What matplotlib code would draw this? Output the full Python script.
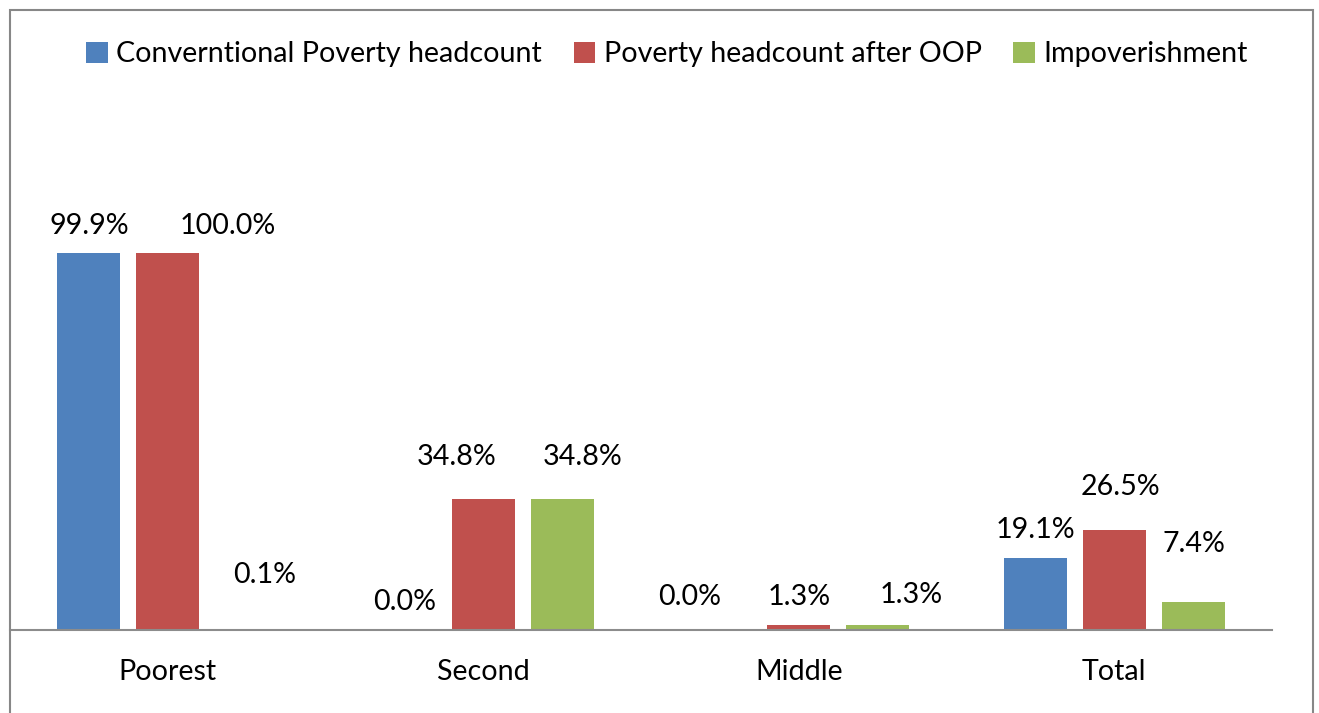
import matplotlib
matplotlib.use("Agg")
import matplotlib.pyplot as plt
from matplotlib.patches import Rectangle, Patch
import numpy as np

categories = ["Poorest", "Second", "Middle", "Total"]
series_names = ["Conventional Poverty headcount", "Poverty headcount after OOP", "Impoverishment"]
legend_labels = ["Converntional Poverty headcount", "Poverty headcount after OOP", "Impoverishment"]
conventional = [99.9, 0.0, 0.0, 19.1]
after_oop = [100.0, 34.8, 1.3, 26.5]
impoverishment = [0.1, 34.8, 1.3, 7.4]

colors = ["#4F81BD", "#C0504D", "#9BBB59"]

# label nudges (pixels) relative to the top-centre of each bar: (dx, dy) per series, per category
label_nudges = [
    [(0, 19), (0, 20), (-30, 25), (0, 20)],
    [(60, 19), (-27, 34), (0, 20), (6, 35)],
    [(18, 47), (20, 34), (34, 22), (1, 50)],
]

plt.rcParams["font.family"] = ["Lato", "DejaVu Sans"]
FS = 20.6

W, H = 1319, 713
fig = plt.figure(figsize=(W / 100, H / 100), dpi=100)
fig.patch.set_facecolor("white")

# outer chart frame
fig.patches.append(Rectangle((10 / W, -0.05), (1313 - 10) / W, (H - 10) / H + 0.05,
                             transform=fig.transFigure, fill=False,
                             edgecolor="#878787", linewidth=1.5))

ax_left, ax_right, ax_bottom, ax_top = 10, 1272, 630, 100
ax = fig.add_axes([ax_left / W, (H - ax_bottom) / H, (ax_right - ax_left) / W,
                   (ax_bottom - ax_top) / H])
ppu = 377 / 100.0  # pixels per percentage point
ax.set_ylim(0, (ax_bottom - ax_top) / ppu)
ax.set_xlim(-0.5, len(categories) - 0.5)

x = np.arange(len(categories))
width = 0.2
offsets = [-0.25, 0.0, 0.25]
all_series = [conventional, after_oop, impoverishment]

for s, (vals, col, off) in enumerate(zip(all_series, colors, offsets)):
    ax.bar(x + off, vals, width=width, color=col, label=series_names[s], zorder=2)
    for i, v in enumerate(vals):
        dx, dy = label_nudges[s][i]
        ax.annotate(f"{v:.1f}%", xy=(x[i] + off, v), xytext=(dx, dy),
                    textcoords="offset pixels", ha="center", va="baseline",
                    fontsize=FS, color="black")

for side in ["top", "right", "left"]:
    ax.spines[side].set_visible(False)
ax.spines["bottom"].set_color("#8C8C8C")
ax.spines["bottom"].set_linewidth(1.5)
ax.spines["bottom"].set_zorder(3)
ax.set_yticks([])
ax.set_xticks(x)
ax.set_xticklabels(categories, fontsize=FS)
ax.tick_params(axis="x", length=0, pad=21)
ax.patch.set_alpha(0)

handles = [Patch(facecolor=c, edgecolor="none") for c in colors]
fig.legend(handles, legend_labels, loc="center", bbox_to_anchor=(667 / W, (H - 54) / H),
           ncol=3, frameon=False, fontsize=FS, handlelength=0.75, handleheight=0.75,
           handletextpad=0.3, columnspacing=1.1, borderaxespad=0)

fig.savefig("out.png", dpi=100)
